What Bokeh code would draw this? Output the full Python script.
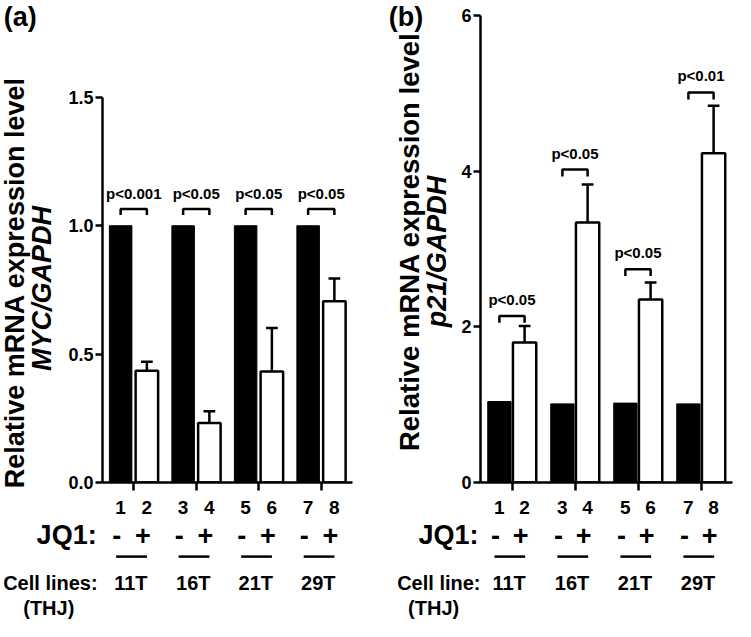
from math import pi
from bokeh.plotting import figure
from bokeh.models import Range1d, FixedTicker, PrintfTickFormatter
from bokeh.layouts import row
from bokeh.embed import file_html
from bokeh.resources import INLINE
from bokeh.core.properties import value

# ---------------- data ----------------
groups = [1, 2, 3, 4]
lane_numbers = ["1", "2", "3", "4", "5", "6", "7", "8"]
jq1_marks = ["-", "+"]
cell_lines = ["11T", "16T", "21T", "29T"]

myc_control = [1.0, 1.0, 1.0, 1.0]
myc_jq1 = [0.435, 0.232, 0.432, 0.706]
myc_jq1_err = [0.035, 0.046, 0.170, 0.089]
myc_pvals = ["p<0.001", "p<0.05", "p<0.05", "p<0.05"]
myc_sig_y = [1.065, 1.065, 1.065, 1.065]
myc_yticks = [0.0, 0.5, 1.0, 1.5]

p21_control = [1.04, 1.01, 1.02, 1.01]
p21_jq1 = [1.80, 3.34, 2.35, 4.23]
p21_jq1_err = [0.21, 0.49, 0.22, 0.61]
p21_pvals = ["p<0.05", "p<0.05", "p<0.05", "p<0.01"]
p21_sig_y = [2.14, 4.02, 2.74, 5.01]
p21_yticks = [0, 2, 4, 6]

FONT_NAME = "Liberation Sans"
FONT = value(FONT_NAME)
H = 621


def make_panel(width, bl, br, ymax, ybounds, yticks, yfmt,
               ctrl, trt, err, pvals, sig_y, geo, texts):
    XL, PXX, YB, PXY = geo["XL"], geo["PXX"], geo["YB"], geo["PXY"]

    def ax(xr):
        return 0.5 + (xr - XL) / PXX

    def ay(yr):
        return (YB - yr) / PXY

    p = figure(width=width, height=H, output_backend="svg", toolbar_location=None,
               x_range=Range1d(0.5, 4.5), y_range=Range1d(0, ymax),
               min_border_left=bl, min_border_right=br,
               min_border_top=15, min_border_bottom=139)
    p.outline_line_color = None
    p.xgrid.grid_line_color = None
    p.ygrid.grid_line_color = None

    off = geo["off"]
    xc = [g - off for g in groups]
    xt = [g + off for g in groups]
    bw = geo["bw"]
    p.vbar(x=xc, top=ctrl, width=bw, fill_color="black", line_color="black",
           line_width=1)
    p.vbar(x=xt, top=trt, width=bw, fill_color="white", line_color="black",
           line_width=2.5)

    # error bars (upper only)
    hi = [t + e for t, e in zip(trt, err)]
    cap = 6 / PXX
    p.segment(x0=xt, y0=trt, x1=xt, y1=hi, line_color="black", line_width=2.5)
    p.segment(x0=[x - cap for x in xt], y0=hi, x1=[x + cap for x in xt], y1=hi,
              line_color="black", line_width=2.5)

    # significance brackets
    drop = geo["drop"] / PXY
    xs = [[a, a, b, b] for a, b in zip(xc, xt)]
    ys = [[s - drop, s, s, s - drop] for s in sig_y]
    p.multi_line(xs=xs, ys=ys, line_color="black", line_width=2.5)
    toff = geo["toff"] / PXY
    p.text(x=groups, y=[s + toff for s in sig_y], text=pvals, text_font=FONT,
           text_font_style="bold", text_font_size="15px", text_align="center",
           text_baseline="middle", text_color="black")

    # axes
    p.yaxis.ticker = FixedTicker(ticks=yticks)
    p.yaxis.formatter = PrintfTickFormatter(format=yfmt)
    p.yaxis.bounds = ybounds
    p.xaxis.ticker = FixedTicker(ticks=groups)
    p.xaxis.major_label_overrides = {g: "" for g in groups}
    for a in (p.xaxis[0], p.yaxis[0]):
        a.axis_line_width = 2.5
        a.axis_line_color = "black"
        a.major_tick_line_width = 2.5
        a.major_tick_line_color = "black"
        a.major_tick_in = 0
        a.minor_tick_line_color = None
        a.major_label_text_font = FONT_NAME
        a.major_label_text_font_style = "bold"
        a.major_label_text_color = "black"
    p.yaxis.major_tick_out = 7
    p.xaxis.major_tick_out = 8
    p.xaxis.major_label_standoff = 0
    p.xaxis.major_label_text_font_size = "1px"
    p.yaxis.major_label_text_font_size = "18px"
    p.yaxis.major_label_standoff = 2

    # texts outside the frame: overlay-level glyphs (not clipped)
    def txt(xv, yv, t, size, align="center", style="bold", angle=0.0):
        p.text(x=xv, y=yv, text=t, text_font=FONT, text_font_size=size,
               text_font_style=style, text_align=align, text_baseline="middle",
               text_color="black", angle=angle, level="overlay")

    txt([ax(texts["letter_x"])], [ay(17)], [texts["letter"]], "27px", align="left")
    txt([ax(texts["yl1_x"])], [ay(texts["yl1_y"])],
        ["Relative mRNA expression level"], texts["yl1_size"], angle=pi / 2)
    txt([ax(texts["yl2_x"])], [ay(texts["yl2_y"])], [texts["yl2"]], "27px",
        style="bold italic", angle=pi / 2)

    lanes = []
    for c, t in zip(xc, xt):
        lanes += [c, t]
    txt(lanes, [ay(520)] * len(lanes), lane_numbers, "19px")

    txt([ax(texts["jq_x"])], [ay(548)], ["JQ1:"], "27px", align="right")
    shift = 4 / PXX
    txt([x - shift for x in lanes], [ay(548)] * len(lanes),
        [jq1_marks[i % 2] for i in range(len(lanes))], "27px")

    uy = [ay(570)] * len(groups)
    p.segment(x0=[g - 18 / PXX for g in groups], y0=uy,
              x1=[g + 13.5 / PXX for g in groups], y1=uy,
              line_color="black", line_width=2.5, level="overlay")

    txt([ax(texts["cell_x"])], [ay(597)], [texts["cell"]], "20px", align="right")
    txt([g - 3 / PXX for g in groups], [ay(597)] * len(groups), cell_lines, "20px")
    txt([ax(texts["thj_x"])], [ay(623)], ["(THJ)"], "20px")
    return p


pa = make_panel(360, 102, 8, 1.819, (0, 1.5), myc_yticks, "%.1f",
                myc_control, myc_jq1, myc_jq1_err, myc_pvals, myc_sig_y,
                dict(XL=104, PXX=64.0, YB=494, PXY=263.33, off=0.21, bw=0.36,
                     drop=6, toff=16),
                dict(letter="(a)", letter_x=3, yl1_x=14, yl1_y=289,
                     yl1_size="27px",
                     yl2="MYC/GAPDH", yl2_x=42, yl2_y=295, jq_x=98,
                     cell="Cell lines:", cell_x=99, thj_x=49))

pb = make_panel(375, 120, 3, 6, (0, 6), p21_yticks, "%d",
                p21_control, p21_jq1, p21_jq1_err, p21_pvals, p21_sig_y,
                dict(XL=490, PXX=64.5, YB=494, PXY=79.83, off=0.2, bw=0.37,
                     drop=7, toff=17),
                dict(letter="(b)", letter_x=396, yl1_x=417, yl1_y=247,
                     yl1_size="27.5px",
                     yl2="p21/GAPDH", yl2_x=445, yl2_y=257, jq_x=488,
                     cell="Cell line:", cell_x=490, thj_x=442))

layout = row(pa, pb)
open("out.html", "w").write(file_html(layout, INLINE))
